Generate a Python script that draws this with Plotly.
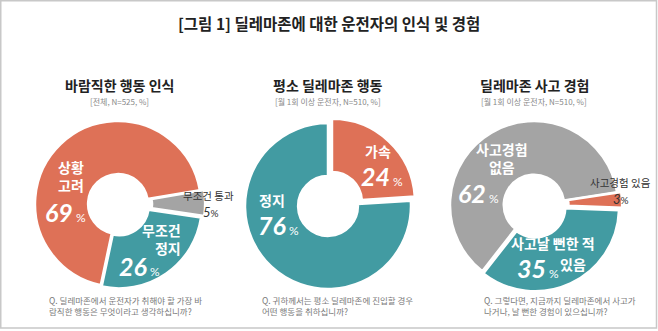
import plotly.graph_objects as go

W, H = 658, 331

ORANGE = "#DE7157"
TEAL = "#429BA2"
GRAY = "#A4A4A4"

FONT = "Noto Sans CJK KR"
NUMFONT = "Lato"

# --- data -----------------------------------------------------------------
title_main = "[그림 1] 딜레마존에 대한 운전자의 인식 및 경험"

p1_title = "바람직한 행동 인식"
p1_base = "[전체, N=525, %]"
p1_labels = ["상황 고려", "무조건 통과", "무조건 정지"]
p1_values = [69, 5, 26]
p1_question = ["Q. 딜레마존에서 운전자가 취해야 할 가장 바", "람직한 행동은 무엇이라고 생각하십니까?"]

p2_title = "평소 딜레마존 행동"
p2_base = "[월 1회 이상 운전자, N=510, %]"
p2_labels = ["가속", "정지"]
p2_values = [24, 76]
p2_question = ["Q. 귀하께서는 평소 딜레마존에 진입할 경우", "어떤 행동을 취하십니까?"]

p3_title = "딜레마존 사고 경험"
p3_base = "[월 1회 이상 운전자, N=510, %]"
p3_labels = ["사고경험 없음", "사고경험 있음", "사고날 뻔한 적 있음"]
p3_values = [62, 3, 35]
p3_question = ["Q. 그렇다면, 지금까지 딜레마존에서 사고가", "나거나, 날 뻔한 경험이 있으십니까?"]


def px(x):
    return x / W


def py(y):
    return 1 - y / H


def donut(values, labels, colors, cx, cy, r, rotation, pull):
    half = r * (1 + max(pull))
    return go.Pie(
        values=values, labels=labels, sort=False, direction="clockwise",
        rotation=rotation, hole=0.36, pull=pull,
        marker=dict(colors=colors, line=dict(color="white", width=2.5)),
        textinfo="none", hoverinfo="label+value", showlegend=False,
        domain=dict(x=[px(cx - half), px(cx + half)],
                    y=[py(cy + half), py(cy - half)]),
    )


fig = go.Figure()
fig.add_trace(donut(p1_values, p1_labels, [ORANGE, GRAY, TEAL],
                    118, 204, 83, 192, [0, 0.05, 0.02]))
fig.add_trace(donut(p2_values, p2_labels, [ORANGE, TEAL],
                    328, 206, 83, 0, [0.07, 0]))
fig.add_trace(donut(p3_values, p3_labels, [GRAY, ORANGE, TEAL],
                    534, 205, 84, 218, [0, 0.05, 0.03]))

anns = []


def ann(x, y, text, size, color, xanchor="center", family=FONT, weight=None,
        align="center"):
    f = dict(family=family, size=size, color=color)
    if weight:
        f["weight"] = weight
    anns.append(dict(x=px(x), y=py(y), xref="paper", yref="paper",
                     text=text, showarrow=False, xanchor=xanchor, yanchor="middle",
                     align=align, font=f))


def pct(v, small=12):
    return (f"<b><i>{v}</i></b>"
            f"<span style='font-size:{small}px'> %</span>")


def pct_small(v):
    return f"<i>{v}</i><span style='font-size:10px'>%</span>"


# headline
ann(329, 23, f"<b>{title_main}</b>", 15.5, "#222222")

# chart titles and bases
for cx, t, b in [(119, p1_title, p1_base), (328, p2_title, p2_base), (534, p3_title, p3_base)]:
    ann(cx, 85, f"<b>{t}</b>", 14, "#222222")
    ann(cx, 101, b, 8, "#8a8a8a")

# questions
for x0, q in [(47, p1_question), (260, p2_question), (482, p3_question)]:
    ann(x0, 305.5, "<br>".join(q), 8.5, "#7a7a7a", "left", align="left")

LBL = dict(weight=600)

# donut 1 labels
ann(86, 176, "상황<br>고려", 14, "white", "right", align="right", **LBL)
ann(88, 212, pct(p1_values[0]), 25, "white", "right", NUMFONT)
ann(209, 196, "무조건 통과", 10.5, "#333333")
ann(211, 212, pct_small(p1_values[1]), 13, "#333333", "center", NUMFONT)
ann(183, 239, "무조건<br>정지", 14, "white", "right", align="right", **LBL)
ann(162, 266, pct(p1_values[2]), 25, "white", "right", NUMFONT)

# donut 2 labels
ann(378, 151, "가속", 14, "white", **LBL)
ann(382, 176, pct(p2_values[0]), 25, "white", "center", NUMFONT)
ann(272, 200, "정지", 14, "white", **LBL)
ann(278, 225, pct(p2_values[1]), 25, "white", "center", NUMFONT)

# donut 3 labels
ann(502, 158, "사고경험<br>없음", 14, "white", **LBL)
ann(478, 193, pct(p3_values[0]), 25, "white", "center", NUMFONT)
ann(620, 183, "사고경험 있음", 10.5, "#333333")
ann(621, 199, pct_small(p3_values[1]), 13, "#333333", "center", NUMFONT)
ann(553, 243, "사고날 뻔한 적", 14, "white", **LBL)
ann(515, 268, pct(p3_values[2]), 25, "white", "left", NUMFONT)
ann(588, 264, "있음", 14, "white", "right", **LBL)

# outer frame
frame = dict(type="rect", xref="paper", yref="paper",
             x0=px(0.75), x1=px(656.5), y0=py(328), y1=py(0.75),
             line=dict(color="#c8c8c8", width=1.5), layer="below")

fig.update_layout(
    width=W, height=H, margin=dict(l=0, r=0, t=0, b=0),
    paper_bgcolor="white", plot_bgcolor="white",
    annotations=anns, shapes=[frame],
)

fig.write_html("out.html")
